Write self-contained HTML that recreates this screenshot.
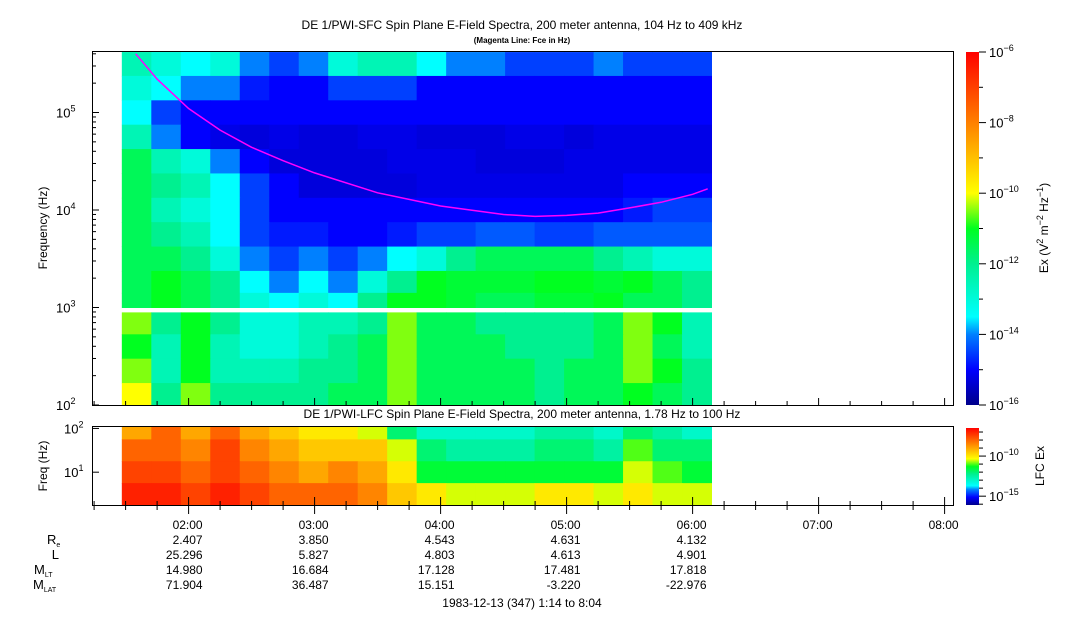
<!DOCTYPE html>
<html><head><meta charset="utf-8"><style>
body{margin:0;background:#fff;font-family:"Liberation Sans",sans-serif;}
#wrap{position:relative;width:1083px;height:620px;overflow:hidden;}
svg{position:absolute;left:0;top:0;}
text{font-family:"Liberation Sans",sans-serif;fill:#000;}
</style></head><body>
<div id="wrap">
<svg id="s" width="1083" height="620"></svg>
</div>
<script>
// ---- data ----
const timeBinsStartHr = 1.47, timeBinsEndHr = 6.15;
const sfcLogFreqRows = [5.5,5.25,5.0,4.75,4.5,4.25,4.0,3.75,3.5,3.25,3.05];
const sfcLowLogFreqRows = [2.85,2.6,2.35,2.1];
const sfcUpper = [
[-12.5,-13,-13.5,-13,-14,-14.5,-14,-13,-12.5,-12.5,-13.5,-14,-14,-14.5,-14.5,-14.5,-14,-14.5,-14.5,-14.5],
[-13,-13.5,-14,-14,-14.8,-15,-15,-14.5,-14.5,-14.5,-15,-15,-15,-15,-15,-15,-15,-15,-15,-15],
[-13.5,-14.5,-15,-15,-15,-15,-15,-15,-15,-15,-15,-15,-15,-15,-15,-15,-15,-15,-15,-15],
[-12.5,-14,-15,-15.2,-15.3,-15.2,-15.3,-15.3,-15.2,-15.2,-15.3,-15.3,-15.3,-15.2,-15.2,-15.3,-15.2,-15.2,-15.2,-15.2],
[-11.5,-12.5,-13,-14,-15,-15.3,-15.3,-15.3,-15.3,-15.2,-15.2,-15.2,-15.3,-15.3,-15.3,-15.2,-15.2,-15.2,-15.2,-15.2],
[-11.5,-12,-12.5,-13.5,-14.5,-15,-15.3,-15.3,-15.3,-15.3,-15.2,-15.2,-15.2,-15.2,-15.2,-15.2,-15.2,-15,-15,-15],
[-11.5,-12.5,-13,-13.5,-14.5,-15,-15,-15,-15,-15,-15,-15,-15,-15,-15,-15,-15,-14.8,-14.5,-14.5],
[-11.5,-12,-12.5,-13.5,-14.5,-14.8,-14.8,-15,-15,-14.8,-14.5,-14.5,-14.3,-14.3,-14.5,-14.5,-14.3,-14.3,-14.3,-14.3],
[-11.5,-11.5,-12,-13,-14,-14.5,-14,-14.5,-14,-13.5,-13,-12,-11.5,-11.5,-11.5,-11.5,-12,-12.5,-13,-13],
[-11.5,-11,-11.5,-12,-13.5,-14,-13.5,-14,-13,-12,-11,-11.2,-11.2,-11.2,-11,-11,-11.2,-11,-11.5,-12],
[-11.5,-11,-11.5,-12,-13,-13.5,-13,-13.5,-12,-11,-11,-11.2,-11.5,-11.5,-11.2,-11.2,-11,-11.5,-11.5,-12]];
const sfcLower = [
[-10.5,-12,-11,-12,-13,-13,-12.5,-12.5,-12,-10.5,-11.5,-11.5,-12,-12,-12,-12,-11.5,-10.5,-11,-12.5],
[-11,-12.5,-11,-12.5,-13,-13,-12.5,-12,-11.5,-10.5,-11.5,-11.5,-11.5,-12,-12,-12,-11.5,-10.5,-11.5,-12.5],
[-10.5,-12.5,-11,-12.5,-12.5,-12.5,-12,-12,-11.5,-10.5,-11.5,-11.5,-11.5,-11.5,-12,-11.5,-11.5,-10.5,-11,-12],
[-10,-12,-10.5,-12,-12,-12,-12,-11.5,-11.5,-10.5,-11.5,-11.5,-11.5,-11.5,-12,-11.5,-11.5,-11,-11.5,-12]];
const lfcLogFreqRows = [2.0,1.5,1.0,0.5];
const lfcValues = [
[-9,-8,-9,-8,-9,-9.5,-10,-10,-10.5,-12,-13,-13,-13,-13,-12.5,-12.5,-13,-12,-12.5,-13],
[-8,-8,-8.5,-7.5,-8.5,-9,-9.5,-9.5,-9.5,-10.5,-12,-12.5,-12.5,-12.5,-12,-12,-12.5,-11,-12,-12],
[-7.5,-7.5,-8,-7.5,-8,-8.5,-9,-8.5,-9,-10,-11.5,-11.5,-11.5,-11.5,-11.5,-11.5,-11.5,-10.5,-11,-11.5],
[-7,-7,-7.5,-7,-7.5,-8,-8,-8,-8.5,-9.5,-10,-10.5,-10.5,-10.5,-10,-10,-10.5,-10,-10.5,-10.5]];
const fceTimesHr = [1.58,1.75,2.0,2.25,2.5,2.75,3.0,3.5,4.0,4.5,4.75,5.0,5.25,5.5,5.75,6.0,6.12];
const fceHz = [400000,220000,110000,66000,44000,32000,24000,15000,11000,9000,8600,8800,9300,10500,12000,14500,16500];
const timeTicks = ["02:00","03:00","04:00","05:00","06:00","07:00","08:00"];
const timeTickHr = [2,3,4,5,6,7,8];
const ephemRe = ["2.407","3.850","4.543","4.631","4.132"];
const ephemL = ["25.296","5.827","4.803","4.613","4.901"];
const ephemMLT = ["14.980","16.684","17.128","17.481","17.818"];
const ephemMLAT = ["71.904","36.487","15.151","-3.220","-22.976"];

// ---- geometry ----
const X0=92,X1=953,T0=1+14/60,T1=8+4/60;
const xT=h=>X0+(h-T0)/(T1-T0)*(X1-X0);
const yF=l=>405-(l-2)*97.5;
const yL=l=>505-(l-0.25)*(77/1.76);
const stops=[[0,[0,0,138]],[.1,[0,0,255]],[.2,[0,128,255]],[.25,[0,255,255]],[.4,[0,240,144]],[.5,[0,255,32]],[.6,[255,255,0]],[.7,[255,192,0]],[.8,[255,128,0]],[.9,[255,64,0]],[1,[255,0,0]]];
function col(t){t=Math.max(0,Math.min(1,t));for(let i=1;i<stops.length;i++){if(t<=stops[i][0]){const a=stops[i-1],b=stops[i],f=(t-a[0])/(b[0]-a[0]);return 'rgb('+a[1].map((v,k)=>Math.round(v+(b[1][k]-v)*f)).join(',')+')';}}return 'rgb(255,0,0)';}
const cMain=v=>col((v+16)/10), cLfc=v=>col((v+16.1)/9.6);
const S=document.getElementById('s');const NS='http://www.w3.org/2000/svg';
function el(t,a,p){const e=document.createElementNS(NS,t);for(const k in a)e.setAttribute(k,a[k]);(p||S).appendChild(e);return e;}
function txt(x,y,s,a,p){const e=el('text',Object.assign({x:x,y:y,'font-size':12},a||{}),p);e.textContent=s;return e;}

const g=el('g',{});
const nb=sfcUpper[0].length,bw=(xT(timeBinsEndHr)-xT(timeBinsStartHr))/nb,xs=xT(timeBinsStartHr);
function rowsBounds(arr){return arr.map((l,i)=>{const up=i==0?l+0.15:(l+arr[i-1])/2,dn=i==arr.length-1?l-0.15:(l+arr[i+1])/2;return [up,dn];});}
const ub=rowsBounds(sfcLogFreqRows);ub[0][0]=5.62;ub[ub.length-1][1]=3.0;
sfcUpper.forEach((row,r)=>row.forEach((v,c)=>{const e=el('rect',{x:xs+c*bw,y:yF(ub[r][0]),width:bw+0.5,height:yF(ub[r][1])-yF(ub[r][0])+0.5,fill:cMain(v)},g);
}));
const lb=rowsBounds(sfcLowLogFreqRows);lb[0][0]=2.95;lb[lb.length-1][1]=2.0;
sfcLower.forEach((row,r)=>row.forEach((v,c)=>{const e=el('rect',{x:xs+c*bw,y:yF(lb[r][0]),width:bw+0.5,height:yF(lb[r][1])-yF(lb[r][0])+0.5,fill:cMain(v)},g);
}));
const pts=fceTimesHr.map((h,i)=>xT(h).toFixed(1)+','+yF(Math.log10(fceHz[i])).toFixed(1)).join(' ');
const fl=el('polyline',{points:pts,fill:'none',stroke:'#ff00ff','stroke-width':1.5});

const g2=el('g',{});
const fb=rowsBounds(lfcLogFreqRows);fb[0][0]=2.05;fb[fb.length-1][1]=0.25;
lfcValues.forEach((row,r)=>row.forEach((v,c)=>{const e=el('rect',{x:xs+c*bw,y:yL(fb[r][0]),width:bw+0.5,height:yL(fb[r][1])-yL(fb[r][0])+0.5,fill:cLfc(v)},g2);
}));

let f=el('rect',{x:92.5,y:51.5,width:861,height:354,fill:'none',stroke:'#000'});
f=el('rect',{x:92.5,y:426.5,width:861,height:79,fill:'none',stroke:'#000'});
[[2,'2'],[3,'3'],[4,'4'],[5,'5']].forEach(([l,e])=>{const y=yF(l);el('line',{x1:92,x2:99,y1:y,y2:y,stroke:'#000'});
const t=txt(56,y+5,'10',{'font-size':13});const sp=el('tspan',{dy:-6,'font-size':9},t);sp.textContent=e;
for(let k=2;k<10&&l<5.6;k++){const yy=yF(l+Math.log10(k));if(yy>52)el('line',{x1:92,x2:96,y1:yy,y2:yy,stroke:'#000'});}});
let t=txt(0,0,'Frequency (Hz)',{transform:'translate(47,228) rotate(-90)','text-anchor':'middle'});
[[1,'1'],[2,'2']].forEach(([l,e])=>{const y=yL(l);el('line',{x1:92,x2:99,y1:y,y2:y,stroke:'#000'});const t=txt(64,y+5,'10',{'font-size':13});const sp=el('tspan',{dy:-6,'font-size':9},t);sp.textContent=e;});
t=txt(0,0,'Freq (Hz)',{transform:'translate(47,466) rotate(-90)','text-anchor':'middle'});
t=txt(522,29,'DE 1/PWI-SFC  Spin Plane E-Field Spectra, 200 meter antenna, 104 Hz to 409 kHz',{'text-anchor':'middle'});
t=txt(522,43,'(Magenta Line: Fce in Hz)',{'text-anchor':'middle','font-size':8,'font-weight':'bold'});
t=txt(522,418,'DE 1/PWI-LFC  Spin Plane E-Field Spectra, 200 meter antenna, 1.78 Hz to 100 Hz',{'text-anchor':'middle'});
for(let h=1.25;h<=8.05;h+=0.25){const x=xT(h);const major=Math.abs(h-Math.round(h))<0.01;el('line',{x1:x,x2:x,y1:505,y2:major?497:501,stroke:'#000'});el('line',{x1:x,x2:x,y1:505,y2:major?514:510,stroke:'#000'});el('line',{x1:x,x2:x,y1:405,y2:major?398:401,stroke:'#000'});}
timeTicks.forEach((s,i)=>{const t=txt(xT(timeTickHr[i])+14,529,s,{'text-anchor':'end'});});
const rowsE=[ephemRe,ephemL,ephemMLT,ephemMLAT],ry=[544,559,574,589];
rowsE.forEach((arr,r)=>arr.forEach((s,i)=>{const t=txt(xT(timeTickHr[i])+14,ry[r],s,{'text-anchor':'end'});}));
[['R','e',47],['L','',59],['M','LT',46],['M','LAT',45]].forEach(([a,b,x],r)=>{const t=txt(x,ry[r],a,{'text-anchor':b?'start':'end','font-size':13});if(b)t.setAttribute('x',x-(b.length>2?12:b.length>1?12:0));if(b){const sp=el('tspan',{dy:3,'font-size':7},t);sp.textContent=b;}});
t=txt(522,607,'1983-12-13 (347) 1:14 to 8:04',{'text-anchor':'middle'});
const defs=el('defs',{});const lg=el('linearGradient',{id:'cg',x1:0,y1:1,x2:0,y2:0},defs);stops.forEach(s=>el('stop',{offset:s[0],'stop-color':col(s[0])},lg));
let cb=el('rect',{x:966,y:52,width:13,height:353,fill:'url(#cg)'});
for(let e=-16;e<=-6;e++){const y=405-(e+16)*35.3;el('line',{x1:979,x2:e%2==0?986:983,y1:y,y2:y,stroke:'#000'});if(e%2==0){const t=txt(989,y+5,'10',{'font-size':13});const sp=el('tspan',{dy:-6,'font-size':9},t);sp.textContent=String(e).replace('-','\u2212');}}
t=txt(0,0,'Ex (V',{transform:'translate(1048,228) rotate(-90)','text-anchor':'middle'});
[['2',-5],[' m',5],['\u22122',-5],[' Hz',5],['\u22121',-5],[')',5]].forEach(([s,d])=>{const sp=el('tspan',{dy:d,'font-size':d<0?9:12},t);sp.textContent=s;});
cb=el('rect',{x:966,y:428,width:13,height:77,fill:'url(#cg)'});
for(let e=-16;e<=-7;e++){const y=505-(e+16.1)*8.02;el('line',{x1:979,x2:(e==-10||e==-15)?986:983,y1:y,y2:y,stroke:'#000'});}
[-10,-15].forEach(e=>{const y=505-(e+16.1)*8.02;const t=txt(989,y+5,'10',{'font-size':13});const sp=el('tspan',{dy:-6,'font-size':9},t);sp.textContent=String(e).replace('-','\u2212');});
t=txt(0,0,'LFC Ex',{transform:'translate(1044,466) rotate(-90)','text-anchor':'middle'});
</script>
</body></html>
